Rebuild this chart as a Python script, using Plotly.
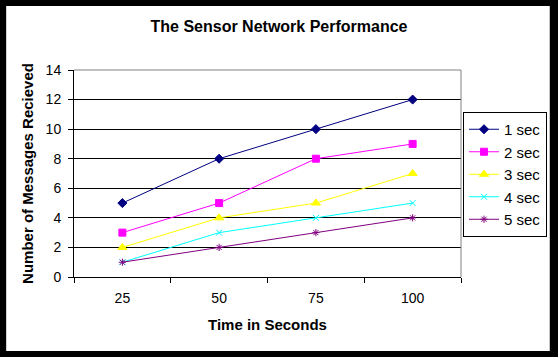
import plotly.graph_objects as go

categories = ["25", "50", "75", "100"]
series_names = ["1 sec", "2 sec", "3 sec", "4 sec", "5 sec"]
s1 = [5, 8, 10, 12]
s2 = [3, 5, 8, 9]
s3 = [2, 4, 5, 7]
s4 = [1, 3, 4, 5]
s5 = [1, 2, 3, 4]
y_ticks = [0, 2, 4, 6, 8, 10, 12, 14]

values = [s1, s2, s3, s4, s5]
colors = ["#000080", "#FF00FF", "#FFFF00", "#00FFFF", "#800080"]
symbols = ["diamond", "square", "triangle-up", "x-thin", "asterisk"]
sizes = [7, 7, 8, 6, 6]

W, H = 558, 357
L, R, T, B = 74, 462, 70, 277

def px(x):
    return (x - L) / (R - L)

def py(y):
    return (B - y) / (B - T)

FONT = "Arial, Liberation Sans, sans-serif"

fig = go.Figure()
for name, vals, c, s, sz in zip(series_names, values, colors, symbols, sizes):
    fig.add_trace(go.Scatter(
        x=categories, y=vals, name=name, mode="lines+markers",
        line=dict(color=c, width=1),
        marker=dict(symbol=s, color=c, size=sz, line=dict(color=c, width=1)),
    ))

fig.update_layout(
    width=W, height=H,
    margin=dict(l=L, r=W - R, t=T, b=H - B, pad=0),
    paper_bgcolor="black",
    plot_bgcolor="#C0C0C0",
    font=dict(family=FONT, size=14, color="black"),
    title=dict(text="<b>The Sensor Network Performance</b>", x=279 / W, xref="container",
               xanchor="center", y=1 - 26.5 / H, yref="container", yanchor="middle",
               font=dict(size=16, family=FONT, color="black")),
    showlegend=True,
    legend=dict(x=px(463), y=py(112), xanchor="left", yanchor="top",
                bgcolor="white", bordercolor="black", borderwidth=1,
                font=dict(size=15, family=FONT, color="black"),
                tracegroupgap=0, itemwidth=30),
    xaxis=dict(type="category", range=[-0.5, 3.5], showgrid=False,
               showline=True, linecolor="black", linewidth=1,
               ticks="outside", tickson="boundaries", ticklen=5, tickcolor="black",
               ticklabelstandoff=8,
               title=dict(text="<b>Time in Seconds</b>", standoff=14,
                          font=dict(size=15, family=FONT))),
    yaxis=dict(range=[0, 14], tickvals=y_ticks, showgrid=True, gridcolor="black",
               gridwidth=1, zeroline=False,
               showline=True, linecolor="black", linewidth=1,
               ticks="outside", ticklen=5, tickcolor="black",
               ticklabelstandoff=4,
               title=dict(text="<b>Number of Messages Recieved</b>", standoff=8,
                          font=dict(size=15, family=FONT))),
    shapes=[
        dict(type="rect", xref="paper", yref="paper", layer="below",
             x0=px(6), x1=px(551), y0=py(351), y1=py(6),
             fillcolor="white", line=dict(width=0)),
        dict(type="line", xref="paper", yref="paper", layer="above",
             x0=0, x1=1, y0=1, y1=1, line=dict(color="#808080", width=1)),
        dict(type="line", xref="paper", yref="paper", layer="above",
             x0=1, x1=1, y0=0, y1=1, line=dict(color="#808080", width=1)),
    ],
)

fig.write_html("out.html", config={"displayModeBar": False},
               post_script="document.body.style.margin='0';document.body.style.overflow='hidden';")
